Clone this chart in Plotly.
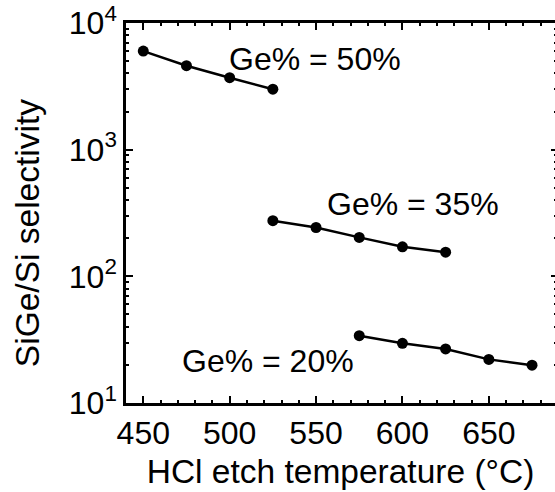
import plotly.graph_objects as go

temp50 = [450, 475, 500, 525]
sel50 = [6000, 4600, 3700, 3000]
temp35 = [525, 550, 575, 600, 625]
sel35 = [275, 243, 203, 171, 155]
temp20 = [575, 600, 625, 650, 675]
sel20 = [34, 29.6, 26.7, 22.1, 19.9]

ytickvals = [10, 100, 1000, 10000]
yticktext = ["10<sup>1</sup>", "10<sup>2</sup>", "10<sup>3</sup>", "10<sup>4</sup>"]

FONT = "Liberation Sans, Arial, sans-serif"
FS = 32
TFS = 33.5

fig = go.Figure()
for xs, ys in [(temp50, sel50), (temp35, sel35), (temp20, sel20)]:
    fig.add_trace(go.Scatter(x=xs, y=ys, mode="lines+markers",
                             line=dict(color="black", width=2.5),
                             marker=dict(color="black", size=11),
                             showlegend=False, hoverinfo="skip"))
# dummy trace for right-side ticks
fig.add_trace(go.Scatter(x=[None], y=[None], yaxis="y2", showlegend=False, hoverinfo="skip"))

annots = [("Ge% = 50%", 498.4, 3.714), ("Ge% = 35%", 555.2, 2.574), ("Ge% = 20%", 471.3, 1.332)]
for txt, ax, ay in annots:
    fig.add_annotation(x=ax, y=ay, text=txt, showarrow=False, xanchor="left", yanchor="middle",
                       font=dict(family=FONT, size=FS, color="black"))

# y-axis title as annotation (positioned slightly below the axis centre, as in the reference)
fig.add_annotation(x=-0.2308, y=0.447, xref="paper", yref="paper", text="SiGe/Si selectivity",
                   textangle=-90, showarrow=False, xanchor="center", yanchor="middle",
                   font=dict(family=FONT, size=TFS, color="black"))

fig.update_layout(
    width=555, height=492,
    margin=dict(l=126, r=0, t=23, b=89),
    paper_bgcolor="white", plot_bgcolor="white",
    font=dict(family=FONT, size=FS, color="black"),
    xaxis=dict(range=[440, 688.3], tickvals=[450, 500, 550, 600, 650],
               ticks="inside", ticklen=7, tickwidth=2, tickcolor="black",
               showline=True, linewidth=2.5, linecolor="black", mirror="ticks",
               showgrid=False, zeroline=False,
               minor=dict(dtick=10, tick0=440, ticks="inside", ticklen=3.5, tickwidth=2, tickcolor="black", showgrid=False),
               title=dict(text="HCl etch temperature (°C)", font=dict(size=TFS), standoff=10),
               tickfont=dict(size=FS)),
    yaxis=dict(type="log", range=[1, 4], tickvals=ytickvals, ticktext=yticktext,
               ticks="inside", ticklen=7, tickwidth=2, tickcolor="black",
               showline=True, linewidth=2.5, linecolor="black",
               showgrid=False, zeroline=False,
               minor=dict(dtick="D1", ticks="inside", ticklen=3.5, tickwidth=2, tickcolor="black", showgrid=False),
               tickfont=dict(size=FS)),
    yaxis2=dict(type="log", range=[1, 4], overlaying="y", side="right", anchor="x",
                tickvals=ytickvals, showticklabels=False,
                ticks="inside", ticklen=4, tickwidth=2, tickcolor="black",
                showline=False, showgrid=False, zeroline=False,
                minor=dict(dtick="D1", ticks="inside", ticklen=1.5, tickwidth=2, tickcolor="black", showgrid=False)),
)

fig.write_html("out.html")
